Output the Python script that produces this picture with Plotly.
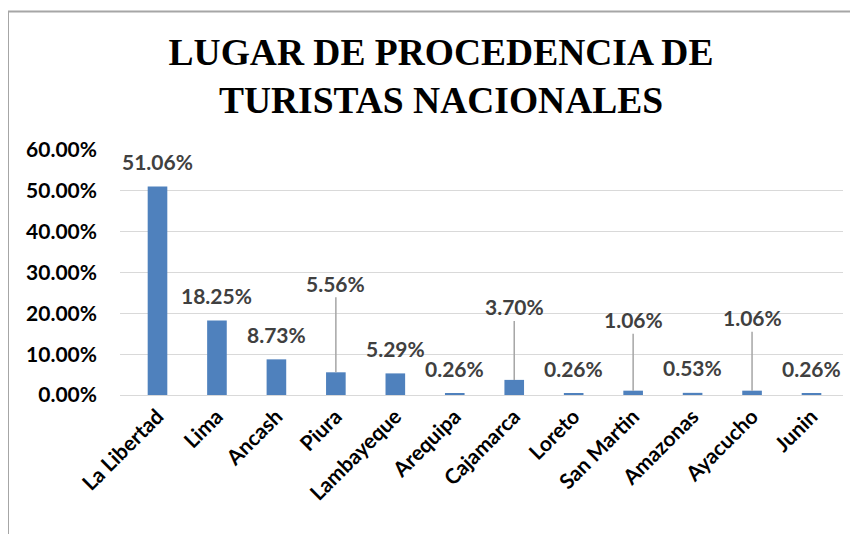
import plotly.graph_objects as go

# datos del grafico
departamentos = ["La Libertad", "Lima", "Ancash", "Piura", "Lambayeque", "Arequipa",
                 "Cajamarca", "Loreto", "San Martin", "Amazonas", "Ayacucho", "Junin"]
porcentajes = [0.5106, 0.1825, 0.0873, 0.0556, 0.0529, 0.0026,
               0.0370, 0.0026, 0.0106, 0.0053, 0.0106, 0.0026]
y_ticks = [0, 0.1, 0.2, 0.3, 0.4, 0.5, 0.6]

# la pagina html tiene 8px de margen en el body -> se descuenta aqui
W, H = 850, 526
ML, MR, MT, MB = 112, 15, 142, 139
pw, ph = W - ML - MR, H - MT - MB

# etiquetas desplazadas con linea guia (px sobre la barra)
guias = {"Piura": 89, "Cajamarca": 73, "San Martin": 71, "Ayacucho": 73}

fig = go.Figure()
fig.add_trace(go.Bar(
    x=departamentos,
    y=porcentajes,
    marker_color="#4F81BD",
    marker_line_width=0,
))

fnt_lbl = dict(size=21, color="#404040", family="Lato", weight="bold")
annots = []
for d, v in zip(departamentos, porcentajes):
    txt = "{:.2%}".format(v)
    if d in guias:
        annots.append(dict(x=d, y=v, text=txt, showarrow=True, arrowhead=0,
                           arrowwidth=1.5, arrowcolor="#A6A6A6", ax=0, ay=-guias[d],
                           standoff=0, font=fnt_lbl))
    else:
        annots.append(dict(x=d, y=v, text=txt, showarrow=False, yshift=25, font=fnt_lbl))

# marco del grafico
def px_x(p):
    return (p - ML) / pw

def px_y(p):
    return (H - MB - p) / ph

shapes = [
    dict(type="line", xref="paper", yref="paper", x0=px_x(-1), x1=px_x(W), y0=px_y(3.5), y1=px_y(3.5),
         line=dict(color="#A6A6A6", width=2)),
    dict(type="line", xref="paper", yref="paper", x0=px_x(0), x1=px_x(0), y0=px_y(3.5), y1=px_y(H),
         line=dict(color="#A6A6A6", width=2)),
]

fig.update_layout(
    width=W, height=H,
    margin=dict(l=ML, r=MR, t=MT, b=MB, autoexpand=False),
    paper_bgcolor="white",
    plot_bgcolor="white",
    showlegend=False,
    bargap=0.67,
    title=dict(text="<b>LUGAR DE PROCEDENCIA DE<br>TURISTAS NACIONALES</b>",
               x=433 / W, xanchor="center", y=1 - 56.5 / H, yanchor="middle",
               font=dict(family="Liberation Serif", size=37.5, color="black")),
    annotations=annots,
    shapes=shapes,
    xaxis=dict(
        tickangle=-45,
        tickfont=dict(family="Lato", size=21, color="black", weight="bold"),
        showline=True, linecolor="#D9D9D9", linewidth=1,
        ticks="", showgrid=False, automargin=False,
    ),
    yaxis=dict(
        range=[0, 0.6],
        tickvals=y_ticks,
        tickformat=".2%",
        tickfont=dict(family="Lato", size=21, color="black", weight="bold"),
        showgrid=True, gridcolor="#D9D9D9", gridwidth=1,
        zeroline=False, ticks="", ticklabelstandoff=22, automargin=False,
    ),
)

fig.write_html("out.html")
